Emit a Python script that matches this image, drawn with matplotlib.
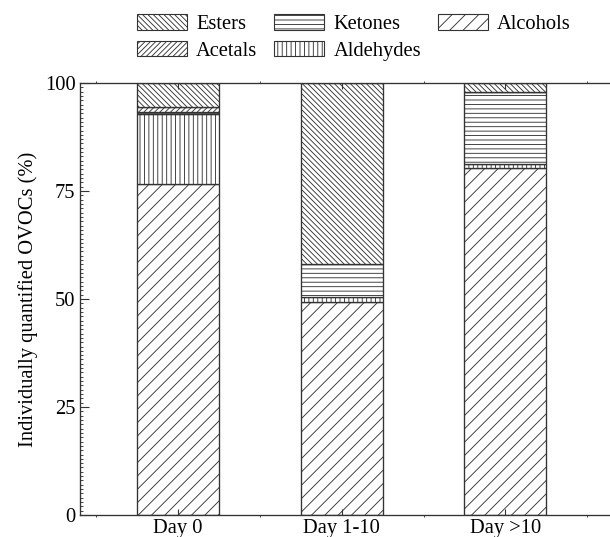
import matplotlib
matplotlib.use("Agg")
import matplotlib.pyplot as plt
import numpy as np
from matplotlib.patches import Patch
from matplotlib.ticker import MultipleLocator, FixedLocator

categories = ["Day 0", "Day 1-10", "Day >10"]
alcohols = [76.6, 49.3, 80.4]
aldehydes = [16.2, 1.2, 0.8]
ketones = [0.6, 7.6, 16.8]
acetals = [1.0, 0.0, 0.0]
esters = [5.6, 41.9, 2.0]

series = [
    ("Alcohols", alcohols, "//"),
    ("Aldehydes", aldehydes, "|||"),
    ("Ketones", ketones, "---"),
    ("Acetals", acetals, "/////"),
    ("Esters", esters, "\\\\\\\\\\"),
]

DPI = 80
plt.rcParams["font.family"] = ["Liberation Serif", "DejaVu Serif"]
plt.rcParams["font.size"] = 18.5
plt.rcParams["hatch.linewidth"] = 0.8
plt.rcParams["hatch.color"] = "#333333"

edge = "#333333"
fig = plt.figure(figsize=(610 / DPI, 537 / DPI), dpi=DPI)
ax = fig.add_axes([80 / 610, 22 / 537, 1 - 80 / 610, (515 - 83) / 537])

x = np.arange(len(categories))
bottom = np.zeros(len(categories))
handles = {}
for name, vals, hatch in series:
    vals = np.array(vals)
    ax.bar(x, vals, width=0.5, bottom=bottom, color="white",
           edgecolor=edge, linewidth=1.2, hatch=hatch)
    handles[name] = Patch(facecolor="white", edgecolor=edge,
                          linewidth=1.0, hatch=hatch, label=name)
    bottom += vals

ax.set_xlim(-0.6, 2.64)
ax.set_ylim(0, 100)
ax.set_xticks(x)
ax.set_xticklabels(categories)
ax.xaxis.set_minor_locator(FixedLocator([-0.5, 0.5, 1.5, 2.5]))
ax.set_yticks([0, 25, 50, 75, 100])
ax.yaxis.set_minor_locator(MultipleLocator(1))

ax.tick_params(axis="y", which="major", direction="in", length=8,
               width=1.0, color=edge, pad=4)
ax.tick_params(axis="y", which="minor", direction="in", length=2.5,
               width=0.8, color=edge)
ax.tick_params(axis="x", which="major", direction="in", length=5,
               width=1.0, color=edge, pad=4, top=True)
ax.tick_params(axis="x", which="minor", direction="out", length=2,
               width=0.8, color=edge, top=True)

for s in ["left", "bottom", "top"]:
    ax.spines[s].set_color(edge)
    ax.spines[s].set_linewidth(1.2)
ax.spines["right"].set_visible(False)

ax.set_ylabel("Individually quantified OVOCs (%)", labelpad=6)

order = ["Esters", "Acetals", "Ketones", "Aldehydes", "Alcohols"]
fig.legend([handles[n] for n in order], order, ncol=3, frameon=False,
           loc="upper center", bbox_to_anchor=(0.58, 1.0),
           handlelength=2.45, handleheight=0.8, handletextpad=0.45,
           columnspacing=0.8, labelspacing=0.3, borderaxespad=0.3)

fig.savefig("out.png", dpi=DPI)
